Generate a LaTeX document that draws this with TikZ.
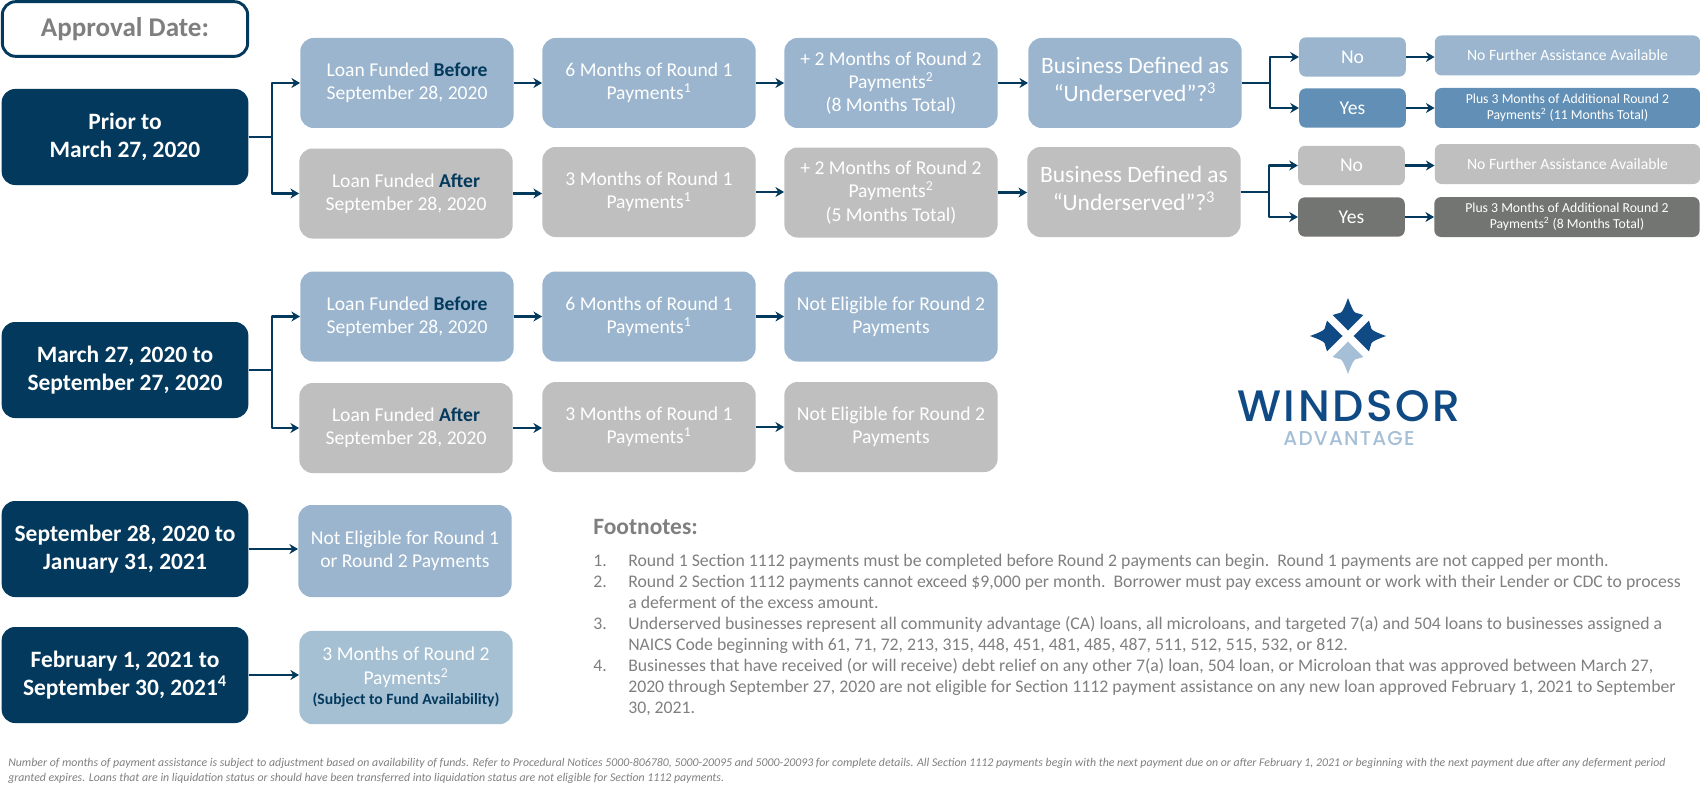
\documentclass[tikz,border=0pt]{standalone}
\usepackage{fontspec}
\setmainfont{Carlito}
\newfontfamily\logofont[LetterSpace=6,UprightFont=* Medium]{Poppins}
\usetikzlibrary{arrows.meta}
\definecolor{navy}{HTML}{03395C}
\definecolor{lightblue}{HTML}{9AB5CD}
\definecolor{paleblue}{HTML}{A5BFD3}
\definecolor{midblue}{HTML}{628FB5}
\definecolor{lightgrey}{HTML}{BFBFBF}
\definecolor{darkgrey}{HTML}{737572}
\definecolor{notegrey}{HTML}{7F7F7F}
\definecolor{logoblue}{HTML}{0F4A85}
\definecolor{logolight}{HTML}{A5BFD6}
\newcommand{\fs}[1]{\fontsize{#1}{1.19\dimexpr#1pt\relax}\selectfont}
\newcommand{\hl}[1]{\textcolor{navy}{\textbf{#1}}}
\newcommand{\fnum}[1]{\makebox[26.25pt][l]{#1}}
\tikzset{
	tile/.style={rounded corners=10pt, text=white, align=center, inner sep=0pt, minimum width=160pt, minimum height=67.5pt, font=\fs{14.7}},
	datebox/.style={tile, fill=navy, minimum width=185pt, minimum height=72pt, font=\fs{17.6}\bfseries},
	bluebox/.style={tile, fill=lightblue},
	greybox/.style={tile, fill=lightgrey},
	bizblue/.style={bluebox, font=\fs{17.6}, text depth=5.4pt},
	bizgrey/.style={greybox, font=\fs{17.6}, text depth=5.4pt},
	pick/.style={tile, rounded corners=5pt, minimum width=80pt, minimum height=29.5pt, font=\fs{14.7}},
	result/.style={tile, rounded corners=5pt, minimum width=199pt, minimum height=30pt, font=\fs{10.3}},
	link/.style={draw=navy, line width=2.1pt, -{Stealth[length=6.5pt,width=7.5pt]}},
	plain/.style={draw=navy, line width=2.1pt},
}
\begin{document}
\begin{tikzpicture}[x=.75pt, y=-.75pt, line join=round]
	\useasboundingbox (0,0) rectangle (1700,792);

	% first column
	\node[tile, draw=navy, line width=2.2pt, fill=white, minimum width=184pt, minimum height=41pt, text=notegrey, font=\fs{20.3}\bfseries] (title) at (125,29) {Approval Date:};
	\node[datebox] (prior) at (125,137) {Prior to\\March 27, 2020};
	\node[datebox] (march) at (125,370) {March 27, 2020 to\\September 27, 2020};
	\node[datebox] (sept) at (125,549) {September 28, 2020 to\\January 31, 2021};
	\node[datebox] (febr) at (125,675) {February 1, 2021 to\\September 30, 2021\textsuperscript{4}};

	% loan funded
	\node[bluebox] (beforeA) at (407,83) {Loan Funded \hl{Before}\\September 28, 2020};
	\node[greybox] (afterA) at (406,193.5) {Loan Funded \hl{After}\\September 28, 2020};
	\node[bluebox] (beforeB) at (407,316.5) {Loan Funded \hl{Before}\\September 28, 2020};
	\node[greybox] (afterB) at (406,428) {Loan Funded \hl{After}\\September 28, 2020};
	\node[bluebox, minimum height=69pt] (noneA) at (405,551) {Not Eligible for Round 1\\or Round 2 Payments};
	\node[tile, fill=paleblue, minimum height=70pt] (fund) at (406,677.5) {3 Months of Round 2\\Payments\textsuperscript{2}\\[-2pt]{\fs{11.75}\hl{(Subject to Fund Availability)}}};

	% round 1
	\node[bluebox] (sixA) at (649,83) {6 Months of Round 1\\Payments\textsuperscript{1}};
	\node[greybox] (threeA) at (649,192) {3 Months of Round 1\\Payments\textsuperscript{1}};
	\node[bluebox] (sixB) at (649,316.5) {6 Months of Round 1\\Payments\textsuperscript{1}};
	\node[greybox] (threeB) at (649,427) {3 Months of Round 1\\Payments\textsuperscript{1}};

	% round 2
	\node[bluebox] (plusA) at (891,83) {+ 2 Months of Round 2\\Payments\textsuperscript{2}\\(8 Months Total)};
	\node[greybox] (plusB) at (891,192.5) {+ 2 Months of Round 2\\Payments\textsuperscript{2}\\(5 Months Total)};
	\node[bluebox] (noneB) at (891,316.5) {Not Eligible for Round 2\\Payments};
	\node[greybox] (noneC) at (891,427) {Not Eligible for Round 2\\Payments};

	% underserved
	\node[bizblue] (bizA) at (1135,83) {Business Defined as\\``Underserved''?\textsuperscript{3}};
	\node[bizgrey] (bizB) at (1134,192) {Business Defined as\\``Underserved''?\textsuperscript{3}};
	\node[pick, fill=lightblue] (noA) at (1352.5,57) {No};
	\node[pick, fill=midblue] (yesA) at (1352.5,108) {Yes};
	\node[pick, fill=lightgrey] (noB) at (1351.5,165.5) {No};
	\node[pick, fill=darkgrey] (yesB) at (1351.5,217) {Yes};
	\node[result, fill=lightblue, font=\fs{11.8}] (furtherA) at (1567.5,55.5) {No Further Assistance Available};
	\node[result, fill=midblue] (plusC) at (1567.5,108) {Plus 3 Months of Additional Round 2\\Payments\textsuperscript{2} (11 Months Total)};
	\node[result, fill=lightgrey, font=\fs{11.8}] (furtherB) at (1567.5,164) {No Further Assistance Available};
	\node[result, fill=darkgrey] (plusD) at (1567,217) {Plus 3 Months of Additional Round 2\\Payments\textsuperscript{2} (8 Months Total)};

	% forks
	\foreach \from/\up/\down/\xfork in {prior/beforeA/afterA/272, march/beforeB/afterB/272, bizA/noA/yesA/1270, bizB/noB/yesB/1269} {
		\coordinate (fork) at (\xfork,0);
		\draw[plain] (\from.east) -- (\from.east -| fork);
		\draw[link] (\from.east -| fork) |- (\up.west);
		\draw[link] (\from.east -| fork) |- (\down.west);
	}
	% straight links
	\foreach \a/\b in {beforeA/sixA, sixA/plusA, plusA/bizA, afterA/threeA, threeA/plusB, plusB/bizB, beforeB/sixB, sixB/noneB, afterB/threeB, threeB/noneC, sept/noneA, febr/fund, noA/furtherA, yesA/plusC, noB/furtherB, yesB/plusD}
		\draw[link] (\a.east) -- (\a.east -| \b.west);

	% logo
	\foreach \ang/\col in {0/logoblue, 90/logoblue, 180/logolight, 270/logoblue}
		\fill[\col, shift={(1348,336)}, rotate=\ang] (0,-38) .. controls (2.5,-31) and (5,-25) .. (7,-23.5) -- (15.3,-21) -- (0,-5.5) -- (-15.3,-21) -- (-7,-23.5) .. controls (-5,-25) and (-2.5,-31) .. (0,-38) -- cycle;
	\node[text=logoblue, inner sep=0pt, font=\logofont\fontsize{33}{33}\selectfont] (windsor) at (1349,406) {WINDSOR};
	\node[text=logolight, inner sep=0pt, font=\logofont\fontsize{15}{15}\selectfont] (advantage) at (1349,439) {ADVANTAGE};

	% footnotes
	\node[anchor=base west, inner sep=0pt, text=notegrey, font=\fs{17.6}\bfseries] (fnhead) at (593,534) {Footnotes:};
	\node[anchor=north west, inner sep=0pt, text=notegrey, align=left, font=\fontsize{13.3}{15.75pt}\selectfont] (fntext) at (593,554) {\fnum{1.}Round 1 Section 1112 payments must be completed before Round 2 payments can begin.\ \ Round 1 payments are not capped per month.\\
		\fnum{2.}Round 2 Section 1112 payments cannot exceed \$9,000 per month.\ \ Borrower must pay excess amount or work with their Lender or CDC to process\\
		\fnum{}a deferment of the excess amount.\\
		\fnum{3.}Underserved businesses represent all community advantage (CA) loans, all microloans, and targeted 7(a) and 504 loans to businesses assigned a\\
		\fnum{}NAICS Code beginning with 61, 71, 72, 213, 315, 448, 451, 481, 485, 487, 511, 512, 515, 532, or 812.\\
		\fnum{4.}Businesses that have received (or will receive) debt relief on any other 7(a) loan, 504 loan, or Microloan that was approved between March 27,\\
		\fnum{}2020 through September 27, 2020 are not eligible for Section 1112 payment assistance on any new loan approved February 1, 2021 to September\\
		\fnum{}30, 2021.};

	% fine print
	\node[anchor=north west, inner sep=0pt, text=notegrey, align=left, font=\fontsize{8.87}{11.4pt}\selectfont\itshape] (fineprint) at (8,758) {Number of months of payment assistance is subject to adjustment based on availability of funds. Refer to Procedural Notices 5000-806780, 5000-20095 and 5000-20093 for complete details. All Section 1112 payments begin with the next payment due on or after February 1, 2021 or beginning with the next payment due after any deferment period\\
		granted expires. Loans that are in liquidation status or should have been transferred into liquidation status are not eligible for Section 1112 payments.};
\end{tikzpicture}
\end{document}
